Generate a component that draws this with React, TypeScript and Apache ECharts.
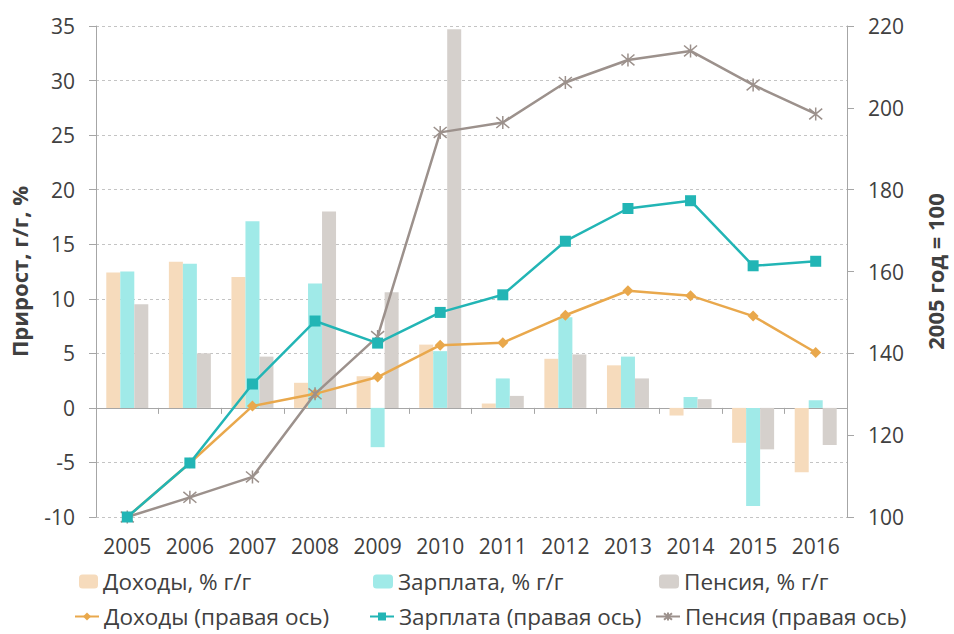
import React, { useEffect, useRef } from 'react';
import * as echarts from 'echarts';

const years = ['2005', '2006', '2007', '2008', '2009', '2010', '2011', '2012', '2013', '2014', '2015', '2016'];
const incomeGrowth = [12.4, 13.4, 12.0, 2.3, 2.9, 5.8, 0.4, 4.5, 3.9, -0.7, -3.2, -5.9];
const wageGrowth = [12.5, 13.2, 17.1, 11.4, -3.6, 5.2, 2.7, 8.3, 4.7, 1.0, -9.0, 0.7];
const pensionGrowth = [9.5, 5.0, 4.7, 18.0, 10.6, 34.7, 1.1, 4.9, 2.7, 0.8, -3.8, -3.4];
const incomeIndex = [100, 113.2, 127.1, 130.1, 134.2, 142.0, 142.6, 149.3, 155.3, 154.1, 149.1, 140.2];
const wageIndex = [100, 113.2, 132.5, 147.9, 142.5, 150.0, 154.3, 167.4, 175.4, 177.3, 161.4, 162.5];
const pensionIndex = [100, 104.8, 109.8, 130.1, 144.1, 194.0, 196.4, 206.2, 211.7, 213.9, 205.6, 198.5];

const seriesNames = [
  'Доходы, % г/г',
  'Зарплата, % г/г',
  'Пенсия, % г/г',
  'Доходы (правая ось)',
  'Зарплата (правая ось)',
  'Пенсия (правая ось)',
];
const leftAxisName = 'Прирост, г/г, %';
const rightAxisName = '2005 год = 100';

const FONT = 'Open Sans';
const TXT = '#404040';
const C_INC_BAR = '#F6DBBC';
const C_WAGE_BAR = '#A0EAE8';
const C_PEN_BAR = '#D5D0CC';
const C_INC = '#E9A84C';
const C_WAGE = '#22B5B5';
const C_PEN = '#9C918C';

const STAR = 'path://M0,0 L10,10 M10,0 L0,10 M5,-1 L5,11';

export default function App() {
  const ref = useRef<HTMLDivElement>(null);
  useEffect(() => {
    if (!ref.current) return;
    const chart = echarts.init(ref.current, null, { renderer: 'svg' });
    const legendText = { color: TXT, fontFamily: FONT, fontSize: 22.5 };
    const mkLegend = (name: string, left: number, top: number, w: number, h: number) => ({
      data: [name],
      left,
      top,
      itemWidth: w,
      itemHeight: h,
      orient: 'horizontal',
      padding: 0,
      textStyle: legendText,
      selectedMode: false,
    });
    chart.setOption({
      animation: false,
      backgroundColor: '#ffffff',
      grid: { left: 94, right: 89, top: 26, bottom: 117, containLabel: false },
      legend: [
        mkLegend(seriesNames[0], 79, 570, 19, 14),
        mkLegend(seriesNames[1], 373, 570, 20, 14),
        mkLegend(seriesNames[2], 659, 570, 20, 14),
        mkLegend(seriesNames[3], 74, 605, 24, 10),
        mkLegend(seriesNames[4], 369, 605, 24, 10),
        mkLegend(seriesNames[5], 655, 605, 24, 10),
      ],
      xAxis: [
        {
          type: 'category',
          data: years,
          position: 'bottom',
          axisLine: { show: false, onZero: false },
          axisTick: { show: false },
          axisLabel: { color: TXT, fontFamily: FONT, fontSize: 21, margin: 18 },
          splitLine: { show: false },
        },
        {
          type: 'category',
          data: years,
          position: 'bottom',
          axisLine: { show: true, onZero: true, onZeroAxisIndex: 0, lineStyle: { color: '#A6A6A6', width: 1 } },
          axisTick: { show: true, length: 6, lineStyle: { color: '#A6A6A6' } },
          axisLabel: { show: false },
          splitLine: { show: false },
        },
      ],
      yAxis: [
        {
          type: 'value',
          min: -10,
          max: 35,
          interval: 5,
          position: 'left',
          name: leftAxisName,
          nameLocation: 'middle',
          nameGap: 66,
          nameTextStyle: { color: TXT, fontFamily: FONT, fontSize: 22, fontWeight: 'bold' },
          axisLine: { show: true, lineStyle: { color: '#A6A6A6', width: 1 } },
          axisTick: { show: true, length: 7, lineStyle: { color: '#A6A6A6' } },
          axisLabel: { color: TXT, fontFamily: FONT, fontSize: 21, margin: 21 },
          splitLine: { show: true, lineStyle: { color: '#C4C4C4', type: [3, 3], width: 1 } },
        },
        {
          type: 'value',
          min: 100,
          max: 220,
          interval: 20,
          position: 'right',
          name: rightAxisName,
          nameLocation: 'middle',
          nameGap: 77,
          nameRotate: 90,
          nameTextStyle: { color: TXT, fontFamily: FONT, fontSize: 22, fontWeight: 'bold' },
          axisLine: { show: true, lineStyle: { color: '#A6A6A6', width: 1 } },
          axisTick: { show: true, length: 7, lineStyle: { color: '#A6A6A6' } },
          axisLabel: { color: TXT, fontFamily: FONT, fontSize: 21, margin: 21 },
          splitLine: { show: false },
        },
      ],
      series: [
        {
          name: seriesNames[0], type: 'bar', data: incomeGrowth, yAxisIndex: 0, xAxisIndex: 0,
          barWidth: 14, barGap: '0%', itemStyle: { color: C_INC_BAR },
        },
        {
          name: seriesNames[1], type: 'bar', data: wageGrowth, yAxisIndex: 0, xAxisIndex: 0,
          barWidth: 14, barGap: '0%', itemStyle: { color: C_WAGE_BAR },
        },
        {
          name: seriesNames[2], type: 'bar', data: pensionGrowth, yAxisIndex: 0, xAxisIndex: 0,
          barWidth: 14, barGap: '0%', itemStyle: { color: C_PEN_BAR },
        },
        {
          name: seriesNames[3], type: 'line', data: incomeIndex, yAxisIndex: 1, xAxisIndex: 0,
          symbol: 'diamond', symbolSize: 11, z: 3,
          lineStyle: { color: C_INC, width: 2.5 }, itemStyle: { color: C_INC },
        },
        {
          name: seriesNames[5], type: 'line', data: pensionIndex, yAxisIndex: 1, xAxisIndex: 0,
          symbol: STAR, symbolSize: 13, z: 4,
          lineStyle: { color: C_PEN, width: 2.5 },
          itemStyle: { color: 'rgba(0,0,0,0)', borderColor: C_PEN, borderWidth: 1.5 },
        },
        {
          name: seriesNames[4], type: 'line', data: wageIndex, yAxisIndex: 1, xAxisIndex: 0,
          symbol: 'rect', symbolSize: 11, z: 5,
          lineStyle: { color: C_WAGE, width: 2.5 }, itemStyle: { color: C_WAGE },
        },
      ],
    });
    return () => chart.dispose();
  }, []);
  return <div ref={ref} style={{ width: 954, height: 634, position: 'absolute', left: 0, top: 0 }} />;
}
